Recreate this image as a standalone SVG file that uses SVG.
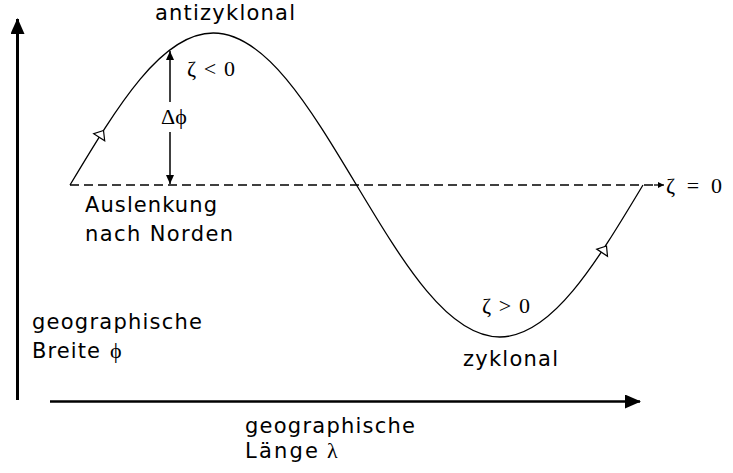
<svg xmlns="http://www.w3.org/2000/svg" width="733" height="473" viewBox="0 0 733 473">
<defs>
<style>
.lbl{font-family:"DejaVu Sans",Verdana,sans-serif;font-size:21px;fill:#000}
.math{font-family:"Liberation Serif","Times New Roman",serif;font-size:22px;fill:#000}
.ax{stroke:#000;fill:none}
</style>
<marker id="big" viewBox="0 0 16 14" refX="15" refY="7" markerWidth="16" markerHeight="14" markerUnits="userSpaceOnUse" orient="auto">
<path d="M0,0 L16,7 L0,14 Z" fill="#000"/>
</marker>
<marker id="mid" viewBox="0 0 9 8" refX="9" refY="4" markerWidth="9" markerHeight="8" markerUnits="userSpaceOnUse" orient="auto">
<path d="M0,0 L9,4 L0,8 Z" fill="#000"/>
</marker>
<marker id="small" viewBox="0 0 6 6" refX="6" refY="3" markerWidth="6" markerHeight="6" markerUnits="userSpaceOnUse" orient="auto">
<path d="M0,0 L6,3 L0,6 Z" fill="#000"/>
</marker>
</defs>
<rect width="733" height="473" fill="#fff"/>
<g id="connectors">
<line id="y-axis" class="ax" x1="17.5" y1="400" x2="17.5" y2="19" stroke-width="3" marker-end="url(#big)"/>
<line id="x-axis" class="ax" x1="50" y1="401.5" x2="640" y2="401.5" stroke-width="2.5" marker-end="url(#big)"/>
<line id="zero-line" class="ax" x1="70" y1="185" x2="653" y2="185" stroke-width="1.5" stroke-dasharray="9,5"/>
<line id="zero-arrow" class="ax" x1="654" y1="185" x2="664" y2="185" stroke-width="1.3" marker-end="url(#small)"/>
<line id="dphi-up" class="ax" x1="170" y1="102" x2="170" y2="51" stroke-width="1.5" marker-end="url(#mid)"/>
<line id="dphi-down" class="ax" x1="170" y1="132" x2="170" y2="184" stroke-width="1.5" marker-end="url(#mid)"/>
<path id="wave" class="ax" stroke-width="1.3" d="M70,185 C117.9,105.2 161.6,33 213.25,33 C264.9,33 308.6,105.2 356.5,185 C404.4,264.8 448.1,337 499.75,337 C551.4,337 595.1,264.8 643,185"/>
<polygon id="dir1" points="103.5,130.5 93.7,133.7 104.7,140.7" fill="#fff" stroke="#000" stroke-width="1.2"/>
<polygon id="dir2" points="606.5,246 596.7,249.1 607.5,256.3" fill="#fff" stroke="#000" stroke-width="1.2"/>
</g>
<g id="label-antizyklonal"><text class="lbl" x="155" y="20" textLength="140" lengthAdjust="spacing">antizyklonal</text></g>
<g id="label-zeta-neg"><text class="math" x="187" y="76" textLength="48" lengthAdjust="spacing">ζ &lt; 0</text></g>
<g id="label-dphi"><text class="math" x="161" y="124">Δϕ</text></g>
<g id="label-auslenkung">
<text class="lbl" x="85" y="212" textLength="132" lengthAdjust="spacing">Auslenkung</text>
<text class="lbl" x="85" y="241" textLength="148" lengthAdjust="spacing">nach Norden</text>
</g>
<g id="label-zeta-zero"><text class="math" x="666" y="193" textLength="56" lengthAdjust="spacing">ζ = 0</text></g>
<g id="label-zeta-pos"><text class="math" x="482" y="313" textLength="48" lengthAdjust="spacing">ζ &gt; 0</text></g>
<g id="label-zyklonal"><text class="lbl" x="463" y="366" textLength="95" lengthAdjust="spacing">zyklonal</text></g>
<g id="label-breite">
<text class="lbl" x="32" y="329" textLength="170" lengthAdjust="spacing">geographische</text>
<text class="lbl" x="32" y="358" textLength="68" lengthAdjust="spacing">Breite</text>
<text class="math" x="110" y="358">ϕ</text>
</g>
<g id="label-laenge">
<text class="lbl" x="245" y="433" textLength="170" lengthAdjust="spacing">geographische</text>
<text class="lbl" x="245" y="458" textLength="73" lengthAdjust="spacing">Länge</text>
<text class="math" x="327" y="458">λ</text>
</g>
</svg>
